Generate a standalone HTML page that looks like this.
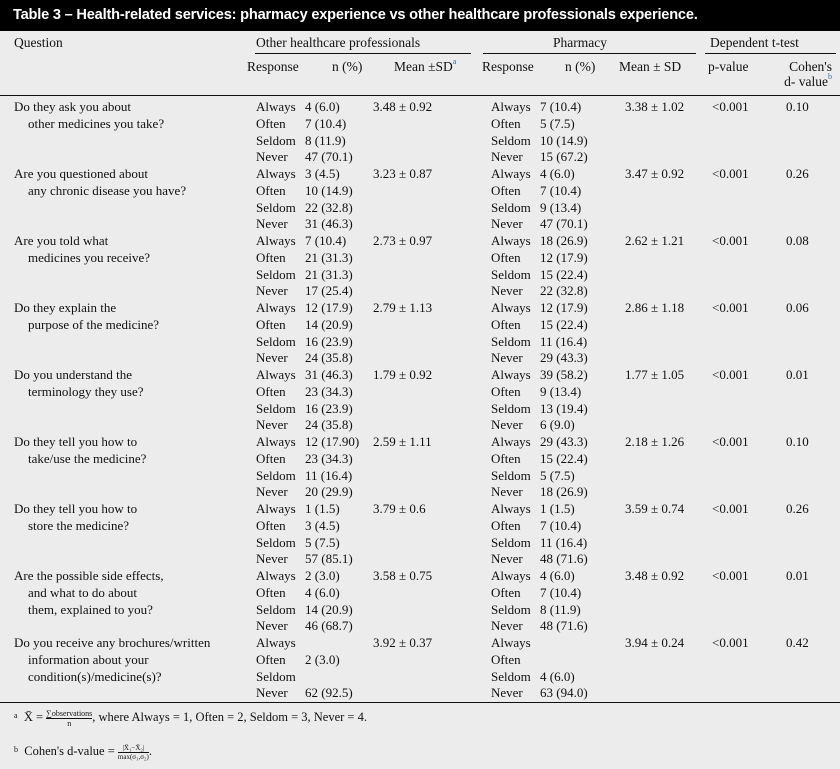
<!DOCTYPE html>
<html><head><meta charset="utf-8"><style>
body{margin:0;width:840px;height:769px;background:#ececec;position:relative;overflow:hidden;font-family:"Liberation Serif","DejaVu Serif",serif;font-size:13px;color:#111}
.t{position:absolute;white-space:nowrap;line-height:16px}
.h{font-size:13.5px}
.ln{position:absolute;background:#111;height:1.3px}
#title{position:absolute;left:0;top:0;width:840px;height:31px;background:#000;color:#fff;font-family:"Liberation Sans",sans-serif;font-weight:bold;font-size:14.6px;line-height:31px;padding-left:13px;box-sizing:border-box;letter-spacing:-0.2px}
sup{font-size:8px;color:#2a6cb0;vertical-align:top;line-height:8px;position:relative;top:-1px}
</style></head><body>
<div id="title">Table 3 – Health-related services: pharmacy experience vs other healthcare professionals experience.</div>
<div class="t h" style="left:14px;top:35px">Question</div>
<div class="t h" style="left:256px;top:35px">Other healthcare professionals</div>
<div class="t h" style="left:553px;top:35px">Pharmacy</div>
<div class="t h" style="left:710px;top:35px">Dependent t-test</div>
<div class="ln" style="left:255px;top:53px;width:216px"></div>
<div class="ln" style="left:483px;top:53px;width:213px"></div>
<div class="ln" style="left:705px;top:53px;width:131px"></div>
<div class="t h" style="left:247px;top:59px">Response</div>
<div class="t h" style="left:332px;top:59px">n (%)</div>
<div class="t h" style="left:394px;top:59px">Mean ±SD<sup>a</sup></div>
<div class="t h" style="left:482px;top:59px">Response</div>
<div class="t h" style="left:565px;top:59px">n (%)</div>
<div class="t h" style="left:619px;top:59px">Mean ± SD</div>
<div class="t h" style="left:708px;top:59px">p-value</div>
<div class="t h" style="left:772px;top:59px;text-align:right;width:60px;line-height:15px">Cohen's<br>d- value<sup>b</sup></div>
<div class="ln" style="left:0;top:95px;width:840px"></div>
<div class="ln" style="left:0;top:702px;width:840px"></div>
<div class="t" style="left:14px;top:708px;font-size:12.5px"><span style="font-size:8px;vertical-align:3px">a</span>&nbsp; X̄ = <span style="display:inline-block;text-align:center;vertical-align:middle;font-size:8px;line-height:9px"><span style="border-bottom:1px solid #111;display:block">∑observations</span>n</span>, where Always = 1, Often = 2, Seldom = 3, Never = 4.</div>
<div class="t" style="left:14px;top:742px;font-size:12.5px"><span style="font-size:8px;vertical-align:3px">b</span>&nbsp; Cohen's d-value = <span style="display:inline-block;text-align:center;vertical-align:middle;font-size:7px;line-height:8px"><span style="border-bottom:1px solid #111;display:block">|X̄₁−X̄₂|</span>max(σ₁,σ₂)</span>.</div>
<script>
const questions=[["Do they ask you about","other medicines you take?"],["Are you questioned about","any chronic disease you have?"],["Are you told what","medicines you receive?"],["Do they explain the","purpose of the medicine?"],["Do you understand the","terminology they use?"],["Do they tell you how to","take/use the medicine?"],["Do they tell you how to","store the medicine?"],["Are the possible side effects,","and what to do about","them, explained to you?"],["Do you receive any brochures/written","information about your","condition(s)/medicine(s)?"]];
const responses=["Always","Often","Seldom","Never"];
const otherN=[["4 (6.0)","7 (10.4)","8 (11.9)","47 (70.1)"],["3 (4.5)","10 (14.9)","22 (32.8)","31 (46.3)"],["7 (10.4)","21 (31.3)","21 (31.3)","17 (25.4)"],["12 (17.9)","14 (20.9)","16 (23.9)","24 (35.8)"],["31 (46.3)","23 (34.3)","16 (23.9)","24 (35.8)"],["12 (17.90)","23 (34.3)","11 (16.4)","20 (29.9)"],["1 (1.5)","3 (4.5)","5 (7.5)","57 (85.1)"],["2 (3.0)","4 (6.0)","14 (20.9)","46 (68.7)"],["","2 (3.0)","","62 (92.5)"]];
const otherMean=["3.48 ± 0.92","3.23 ± 0.87","2.73 ± 0.97","2.79 ± 1.13","1.79 ± 0.92","2.59 ± 1.11","3.79 ± 0.6","3.58 ± 0.75","3.92 ± 0.37"];
const pharmN=[["7 (10.4)","5 (7.5)","10 (14.9)","15 (67.2)"],["4 (6.0)","7 (10.4)","9 (13.4)","47 (70.1)"],["18 (26.9)","12 (17.9)","15 (22.4)","22 (32.8)"],["12 (17.9)","15 (22.4)","11 (16.4)","29 (43.3)"],["39 (58.2)","9 (13.4)","13 (19.4)","6 (9.0)"],["29 (43.3)","15 (22.4)","5 (7.5)","18 (26.9)"],["1 (1.5)","7 (10.4)","11 (16.4)","48 (71.6)"],["4 (6.0)","7 (10.4)","8 (11.9)","48 (71.6)"],["","","4 (6.0)","63 (94.0)"]];
const pharmMean=["3.38 ± 1.02","3.47 ± 0.92","2.62 ± 1.21","2.86 ± 1.18","1.77 ± 1.05","2.18 ± 1.26","3.59 ± 0.74","3.48 ± 0.92","3.94 ± 0.24"];
const pvals=["<0.001","<0.001","<0.001","<0.001","<0.001","<0.001","<0.001","<0.001","<0.001"];
const cohens=["0.10","0.26","0.08","0.06","0.01","0.10","0.26","0.01","0.42"];
function put(txt,x,y,name){const d=document.createElement('div');d.className='t';d.style.left=x+'px';d.style.top=y+'px';d.textContent=txt;


document.body.appendChild(d);}
const RH=16.75,Y0=99;
questions.forEach((q,i)=>{const y=Y0+i*67;
q.forEach((l,j)=>put(l,j?28:14,y+j*RH,'question-'+(i+1)));
responses.forEach((r,j)=>{const yy=y+j*RH;
put(r,256,yy,'other-response');put(otherN[i][j],305,yy,'other-n');
put(r,491,yy,'pharmacy-response');put(pharmN[i][j],540,yy,'pharmacy-n');});
put(otherMean[i],373,y,'other-mean');put(pharmMean[i],625,y,'pharmacy-mean');
put(pvals[i],712,y,'p-value');put(cohens[i],786,y,'cohens-d');});
</script>
</body></html>
